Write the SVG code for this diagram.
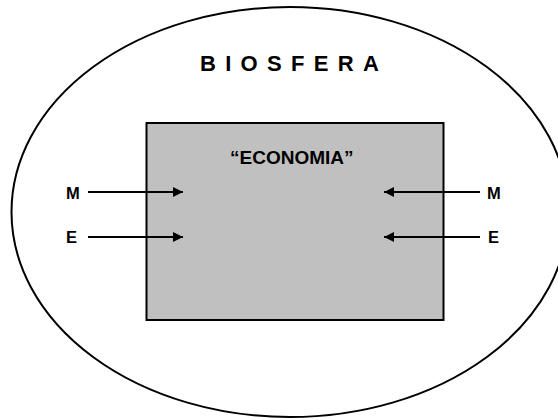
<svg xmlns="http://www.w3.org/2000/svg" width="558" height="420" viewBox="0 0 558 420">
  <defs>
    <style>
      .lbl { font-family: "Liberation Sans", Arial, sans-serif; font-weight: bold; fill: #000; }
      .edge { stroke: #000; stroke-width: 2; fill: none; }
    </style>
    <marker id="ah" viewBox="0 0 10 10" refX="10" refY="5" markerWidth="10" markerHeight="10" markerUnits="userSpaceOnUse" orient="auto">
      <path d="M0,0 L10,5 L0,10 Z" fill="#000"/>
    </marker>
  </defs>
  <rect width="558" height="420" fill="#fff"/>
  <g id="biosfera">
    <ellipse cx="290" cy="212" rx="278.5" ry="205" fill="#fff" stroke="#000" stroke-width="2"/>
    <text class="lbl" x="200" y="71" font-size="22" letter-spacing="9.3">BIOSFERA</text>
  </g>
  <g id="economia">
    <rect x="146.5" y="123" width="297" height="197" fill="#c0c0c0" stroke="#000" stroke-width="2"/>
    <text class="lbl" x="230" y="163.5" font-size="19">“ECONOMIA”</text>
  </g>
  <g id="labels">
    <text class="lbl" x="66" y="199" font-size="16.5">M</text>
    <text class="lbl" x="66" y="243" font-size="16.5">E</text>
    <text class="lbl" x="487" y="199" font-size="16.5">M</text>
    <text class="lbl" x="488" y="243" font-size="16.5">E</text>
  </g>
  <g id="connectors">
    <line class="edge" x1="88" y1="192" x2="183" y2="192" marker-end="url(#ah)"/>
    <line class="edge" x1="88" y1="237" x2="183" y2="237" marker-end="url(#ah)"/>
    <line class="edge" x1="480" y1="192" x2="384" y2="192" marker-end="url(#ah)"/>
    <line class="edge" x1="480" y1="237" x2="384" y2="237" marker-end="url(#ah)"/>
  </g>
</svg>
